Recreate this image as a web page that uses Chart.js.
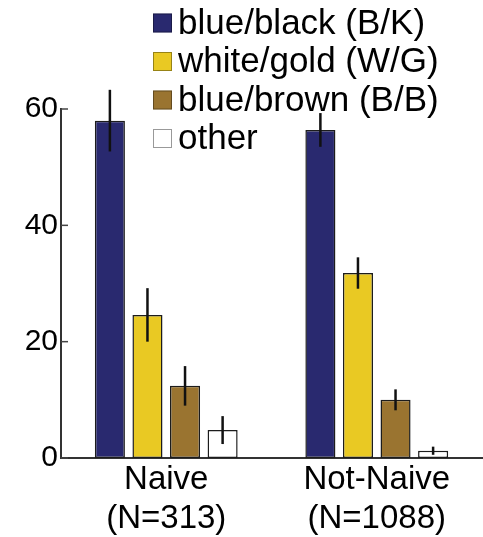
<!DOCTYPE html>
<html>
<head>
<meta charset="utf-8">
<script src="https://cdn.jsdelivr.net/npm/chart.js@4.4.1/dist/chart.umd.min.js"></script>
<style>
  body { margin: 0; background: #fff; }
  canvas { display: block; }
</style>
</head>
<body>
<canvas id="dressChart" width="483" height="537"></canvas>
<script>
const categories = [["Naive", "(N=313)"], ["Not-Naive", "(N=1088)"]];
const seriesNames = ["blue/black (B/K)", "white/gold (W/G)", "blue/brown (B/B)", "other"];
const blueBlack = [58.0, 56.4];
const blueBlackErr = [5.3, 2.9];
const whiteGold = [24.6, 31.8];
const whiteGoldErr = [4.6, 2.7];
const blueBrown = [12.4, 10.0];
const blueBrownErr = [3.4, 1.8];
const other = [4.8, 1.25];
const otherErr = [2.4, 0.7];
const yTicks = [0, 20, 40, 60];

const fillColors = ["#29296f", "#e9c923", "#9a7430", "#ffffff"];
const FONT = "'Liberation Sans', Arial, sans-serif";

// error bars drawn on top of each bar
const errorBars = {
    id: "errorBars",
    afterDatasetsDraw(chart) {
        const ctx = chart.ctx;
        const y = chart.scales.y;
        ctx.save();
        ctx.strokeStyle = "#111";
        ctx.lineWidth = 2.5;
        chart.data.datasets.forEach((ds, i) => {
            const meta = chart.getDatasetMeta(i);
            meta.data.forEach((bar, j) => {
                const v = ds.data[j], e = ds.errors[j];
                ctx.beginPath();
                ctx.moveTo(bar.x, y.getPixelForValue(v + e));
                ctx.lineTo(bar.x, y.getPixelForValue(v - e));
                ctx.stroke();
            });
        });
        ctx.restore();
    }
};

// inward tick marks on the y axis + legend placed over the plot
const extras = {
    id: "extras",
    afterDraw(chart) {
        const ctx = chart.ctx;
        const y = chart.scales.y;
        const left = chart.chartArea.left;
        ctx.save();
        ctx.strokeStyle = "#444";
        ctx.lineWidth = 1.5;
        yTicks.forEach(t => {
            const py = y.getPixelForValue(t);
            ctx.beginPath();
            ctx.moveTo(left, py);
            ctx.lineTo(left + 7, py);
            ctx.stroke();
        });

        const rows = [23, 61.5, 100, 138.5];
        ctx.font = "35px " + FONT;
        ctx.textBaseline = "middle";
        ctx.textAlign = "left";
        chart.data.datasets.forEach((ds, i) => {
            const cy = rows[i];
            ctx.fillStyle = ds.backgroundColor;
            ctx.fillRect(153, cy - 9.5, 19, 19);
            ctx.strokeStyle = i === 3 ? "#999" : "rgba(0,0,0,0.35)";
            ctx.lineWidth = 1;
            ctx.strokeRect(153.5, cy - 9, 18, 18);
            ctx.fillStyle = "#000";
            ctx.fillText(ds.label, 178, cy + 1);
        });
        ctx.restore();
    }
};

const seriesData = [blueBlack, whiteGold, blueBrown, other];
const seriesErr = [blueBlackErr, whiteGoldErr, blueBrownErr, otherErr];

new Chart(document.getElementById("dressChart").getContext("2d"), {
    type: "bar",
    data: {
        labels: categories,
        datasets: seriesNames.map((name, i) => ({
            label: name,
            data: seriesData[i],
            errors: seriesErr[i],
            backgroundColor: fillColors[i],
            borderColor: "#1c1c1c",
            borderWidth: 1.5,
            borderSkipped: false,
            categoryPercentage: 0.714,
            barPercentage: 0.8
        }))
    },
    options: {
        responsive: false,
        animation: false,
        layout: { padding: { top: 109, right: 1, left: 0, bottom: 0 } },
        plugins: {
            legend: { display: false },
            tooltip: { enabled: false }
        },
        scales: {
            x: {
                grid: { display: false },
                border: { display: true, color: "#333", width: 2 },
                ticks: {
                    color: "#000",
                    padding: -6,
                    font: { family: FONT, size: 33, lineHeight: 1.2 }
                },
                afterFit(scale) { scale.height = 79; }
            },
            y: {
                min: 0,
                max: 60,
                grid: { display: false },
                border: { display: true, color: "#333", width: 2 },
                ticks: {
                    stepSize: 20,
                    color: "#000",
                    padding: -5,
                    font: { family: FONT, size: 30 }
                },
                afterFit(scale) { scale.width = 61; }
            }
        }
    },
    plugins: [errorBars, extras]
});
</script>
</body>
</html>
